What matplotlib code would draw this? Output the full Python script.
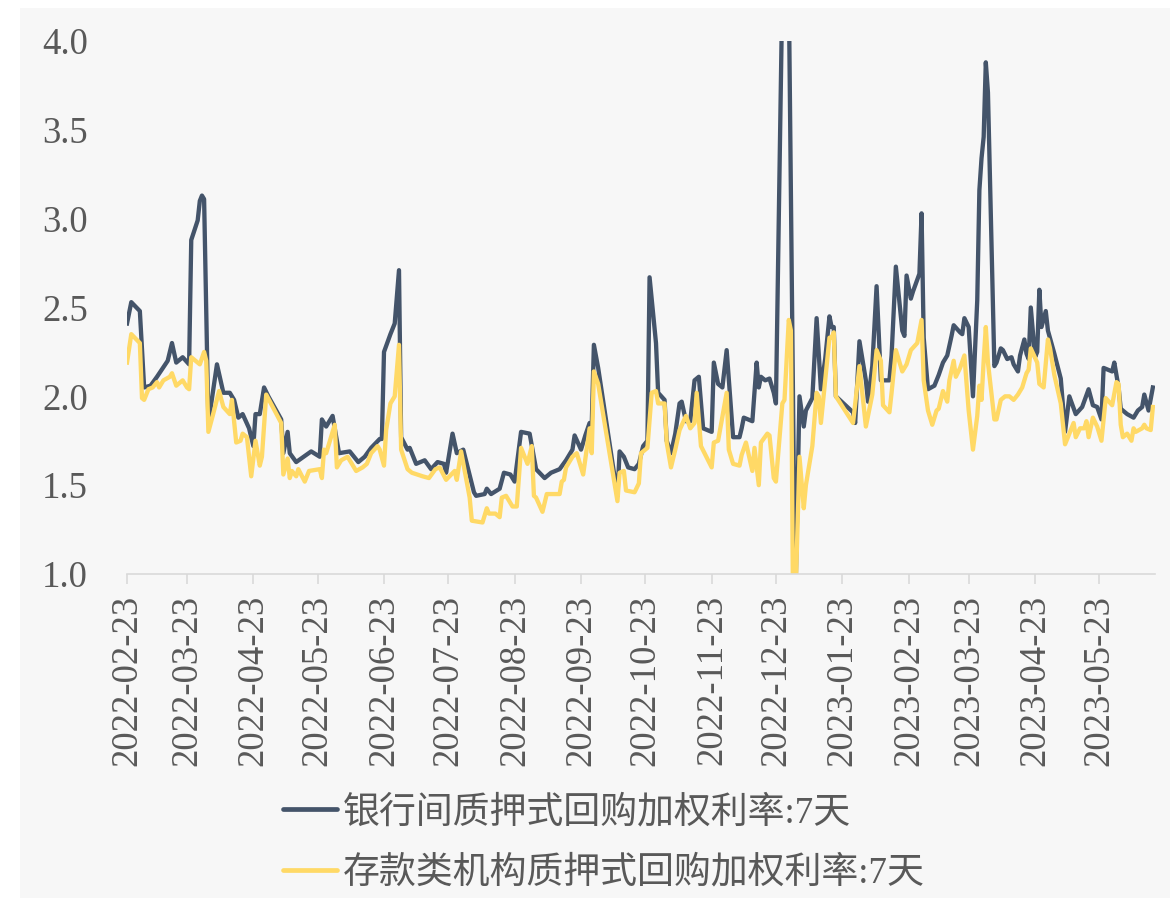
import matplotlib
matplotlib.use("Agg")
import matplotlib.pyplot as plt
import matplotlib.dates as mdates
import pandas as pd
from matplotlib.patches import Rectangle

# 银行间质押式回购加权利率:7天
bank_dates = [
    "2022-02-23", "2022-02-25", "2022-03-01", "2022-03-03", "2022-03-06", "2022-03-09", "2022-03-14",
    "2022-03-16", "2022-03-18", "2022-03-21", "2022-03-24", "2022-03-25", "2022-03-28", "2022-03-29",
    "2022-03-30", "2022-03-31", "2022-04-02", "2022-04-06", "2022-04-09", "2022-04-12", "2022-04-14",
    "2022-04-16", "2022-04-18", "2022-04-21", "2022-04-23", "2022-04-24", "2022-04-26", "2022-04-28",
    "2022-04-30", "2022-05-06", "2022-05-07", "2022-05-09", "2022-05-10", "2022-05-13", "2022-05-20",
    "2022-05-24", "2022-05-25", "2022-05-27", "2022-05-30", "2022-06-02", "2022-06-07", "2022-06-11",
    "2022-06-14", "2022-06-17", "2022-06-21", "2022-06-22", "2022-06-23", "2022-06-26", "2022-06-28",
    "2022-06-30", "2022-07-01", "2022-07-04", "2022-07-05", "2022-07-08", "2022-07-12", "2022-07-15",
    "2022-07-18", "2022-07-21", "2022-07-22", "2022-07-25", "2022-07-27", "2022-07-30", "2022-08-04",
    "2022-08-05", "2022-08-09", "2022-08-10", "2022-08-12", "2022-08-16", "2022-08-18", "2022-08-21",
    "2022-08-23", "2022-08-26", "2022-08-30", "2022-09-02", "2022-09-06", "2022-09-09", "2022-09-13",
    "2022-09-16", "2022-09-19", "2022-09-20", "2022-09-23", "2022-09-25", "2022-09-27", "2022-09-28",
    "2022-09-29", "2022-10-01", "2022-10-10", "2022-10-11", "2022-10-13", "2022-10-15", "2022-10-18",
    "2022-10-20", "2022-10-22", "2022-10-24", "2022-10-25", "2022-10-28", "2022-10-29", "2022-11-01",
    "2022-11-02", "2022-11-04", "2022-11-06", "2022-11-08", "2022-11-09", "2022-11-11", "2022-11-13",
    "2022-11-15", "2022-11-17", "2022-11-19", "2022-11-23", "2022-11-24", "2022-11-26", "2022-11-28",
    "2022-11-30", "2022-12-03", "2022-12-06", "2022-12-07", "2022-12-08", "2022-12-12", "2022-12-14",
    "2022-12-15", "2022-12-16", "2022-12-18", "2022-12-20", "2022-12-22", "2022-12-23", "2022-12-26",
    "2022-12-29", "2023-01-01", "2023-01-03", "2023-01-05", "2023-01-06", "2023-01-09", "2023-01-11",
    "2023-01-13", "2023-01-15", "2023-01-17", "2023-01-18", "2023-01-19", "2023-01-20", "2023-01-28",
    "2023-01-29", "2023-01-31", "2023-02-03", "2023-02-04", "2023-02-06", "2023-02-08", "2023-02-10",
    "2023-02-14", "2023-02-15", "2023-02-17", "2023-02-20", "2023-02-21", "2023-02-22", "2023-02-24",
    "2023-02-25", "2023-02-28", "2023-03-01", "2023-03-02", "2023-03-04", "2023-03-07", "2023-03-09",
    "2023-03-11", "2023-03-13", "2023-03-15", "2023-03-16", "2023-03-19", "2023-03-20", "2023-03-21",
    "2023-03-23", "2023-03-25", "2023-03-27", "2023-03-28", "2023-03-29", "2023-03-30", "2023-03-31",
    "2023-04-01", "2023-04-04", "2023-04-05", "2023-04-07", "2023-04-08", "2023-04-10", "2023-04-12",
    "2023-04-13", "2023-04-15", "2023-04-16", "2023-04-18", "2023-04-19", "2023-04-20", "2023-04-21",
    "2023-04-23", "2023-04-24", "2023-04-25", "2023-04-26", "2023-04-28", "2023-04-29", "2023-05-02",
    "2023-05-05", "2023-05-07", "2023-05-09", "2023-05-12", "2023-05-15", "2023-05-18", "2023-05-20",
    "2023-05-22", "2023-05-24", "2023-05-25", "2023-05-29", "2023-05-30", "2023-06-01", "2023-06-02",
    "2023-06-05", "2023-06-08", "2023-06-10", "2023-06-12", "2023-06-13", "2023-06-15", "2023-06-17",
]
bank_rate = [
    2.41, 2.53, 2.48, 2.05, 2.06, 2.11, 2.20,
    2.30, 2.19, 2.22, 2.18, 2.88, 2.99, 3.10,
    3.13, 3.11, 1.85, 2.18, 2.02, 2.02, 1.98,
    1.88, 1.90, 1.82, 1.72, 1.90, 1.90, 2.05,
    2.00, 1.87, 1.68, 1.80, 1.68, 1.63, 1.69,
    1.66, 1.87, 1.83, 1.89, 1.68, 1.69, 1.63,
    1.66, 1.71, 1.76, 1.76, 2.25, 2.35, 2.41,
    2.71, 1.77, 1.70, 1.71, 1.62, 1.64, 1.59,
    1.63, 1.62, 1.57, 1.79, 1.68, 1.70, 1.46,
    1.44, 1.45, 1.48, 1.45, 1.48, 1.57, 1.56,
    1.52, 1.80, 1.79, 1.59, 1.54, 1.57, 1.59,
    1.64, 1.70, 1.78, 1.70, 1.78, 1.85, 1.84,
    2.29, 2.16, 1.44, 1.69, 1.66, 1.60, 1.59,
    1.62, 1.72, 1.75, 2.67, 2.30, 2.02, 1.98,
    1.75, 1.68, 1.79, 1.96, 1.97, 1.86, 1.86,
    2.09, 2.11, 1.82, 1.80, 2.19, 2.07, 2.05,
    2.26, 1.77, 1.77, 1.82, 1.88, 1.86, 2.19,
    2.05, 2.11, 2.09, 2.10, 2.02, 1.96, 4.30,
    4.30, 0.80, 2.00, 1.83, 1.92, 1.99, 2.44,
    2.04, 2.21, 2.45, 2.39, 2.39, 2.00, 1.91,
    1.85, 2.31, 2.09, 1.97, 2.17, 2.62, 2.09,
    2.09, 2.23, 2.73, 2.37, 2.34, 2.68, 2.55,
    2.59, 2.69, 3.03, 2.33, 2.04, 2.06, 2.12,
    2.19, 2.23, 2.34, 2.40, 2.36, 2.35, 2.44,
    2.39, 2.00, 2.54, 3.16, 3.34, 3.46, 3.88,
    3.71, 2.17, 2.19, 2.27, 2.26, 2.21, 2.22,
    2.18, 2.14, 2.23, 2.32, 2.24, 2.21, 2.50,
    2.22, 2.25, 2.60, 2.39, 2.48, 2.37, 2.24,
    2.10, 1.80, 2.00, 1.90, 1.94, 2.04, 1.95,
    1.94, 1.87, 2.16, 2.14, 2.19, 2.05, 1.93,
    1.90, 1.88, 1.92, 1.94, 2.01, 1.92, 2.05,
]

# 存款类机构质押式回购加权利率:7天
dep_dates = [
    "2022-02-23", "2022-02-25", "2022-03-01", "2022-03-02", "2022-03-03", "2022-03-05", "2022-03-07",
    "2022-03-09", "2022-03-10", "2022-03-12", "2022-03-15", "2022-03-16", "2022-03-18", "2022-03-21",
    "2022-03-23", "2022-03-24", "2022-03-25", "2022-03-28", "2022-03-29", "2022-03-31", "2022-04-01",
    "2022-04-02", "2022-04-04", "2022-04-07", "2022-04-09", "2022-04-12", "2022-04-13", "2022-04-15",
    "2022-04-17", "2022-04-18", "2022-04-20", "2022-04-22", "2022-04-24", "2022-04-26", "2022-04-27",
    "2022-04-29", "2022-05-06", "2022-05-07", "2022-05-09", "2022-05-10", "2022-05-11", "2022-05-13",
    "2022-05-14", "2022-05-17", "2022-05-19", "2022-05-24", "2022-05-25", "2022-05-26", "2022-05-27",
    "2022-05-31", "2022-06-01", "2022-06-03", "2022-06-06", "2022-06-08", "2022-06-10", "2022-06-13",
    "2022-06-15", "2022-06-17", "2022-06-20", "2022-06-21", "2022-06-23", "2022-06-24", "2022-06-26",
    "2022-06-28", "2022-06-30", "2022-07-01", "2022-07-04", "2022-07-06", "2022-07-11", "2022-07-14",
    "2022-07-17", "2022-07-19", "2022-07-22", "2022-07-26", "2022-07-27", "2022-07-29", "2022-08-02",
    "2022-08-03", "2022-08-08", "2022-08-10", "2022-08-11", "2022-08-14", "2022-08-16", "2022-08-17",
    "2022-08-19", "2022-08-22", "2022-08-24", "2022-08-26", "2022-08-29", "2022-08-31", "2022-09-01",
    "2022-09-02", "2022-09-05", "2022-09-07", "2022-09-10", "2022-09-13", "2022-09-14", "2022-09-15",
    "2022-09-16", "2022-09-19", "2022-09-21", "2022-09-24", "2022-09-27", "2022-09-28", "2022-09-29",
    "2022-10-01", "2022-10-10", "2022-10-11", "2022-10-13", "2022-10-14", "2022-10-18", "2022-10-20",
    "2022-10-21", "2022-10-24", "2022-10-26", "2022-10-28", "2022-10-29", "2022-11-01", "2022-11-02",
    "2022-11-04", "2022-11-06", "2022-11-08", "2022-11-11", "2022-11-13", "2022-11-15", "2022-11-16",
    "2022-11-18", "2022-11-23", "2022-11-24", "2022-11-26", "2022-11-30", "2022-12-01", "2022-12-03",
    "2022-12-06", "2022-12-07", "2022-12-09", "2022-12-12", "2022-12-13", "2022-12-15", "2022-12-16",
    "2022-12-19", "2022-12-20", "2022-12-22", "2022-12-23", "2022-12-26", "2022-12-27", "2022-12-29",
    "2022-12-30", "2022-12-31", "2023-01-01", "2023-01-03", "2023-01-05", "2023-01-06", "2023-01-09",
    "2023-01-11", "2023-01-12", "2023-01-13", "2023-01-17", "2023-01-18", "2023-01-19", "2023-01-20",
    "2023-01-28", "2023-01-31", "2023-02-03", "2023-02-06", "2023-02-08", "2023-02-10", "2023-02-11",
    "2023-02-14", "2023-02-15", "2023-02-17", "2023-02-20", "2023-02-22", "2023-02-24", "2023-02-27",
    "2023-03-01", "2023-03-02", "2023-03-04", "2023-03-06", "2023-03-08", "2023-03-09", "2023-03-11",
    "2023-03-13", "2023-03-14", "2023-03-16", "2023-03-17", "2023-03-19", "2023-03-21", "2023-03-23",
    "2023-03-25", "2023-03-27", "2023-03-28", "2023-03-29", "2023-03-30", "2023-03-31", "2023-04-01",
    "2023-04-04", "2023-04-05", "2023-04-07", "2023-04-09", "2023-04-11", "2023-04-13", "2023-04-15",
    "2023-04-17", "2023-04-19", "2023-04-20", "2023-04-21", "2023-04-24", "2023-04-25", "2023-04-27",
    "2023-04-29", "2023-04-30", "2023-05-02", "2023-05-05", "2023-05-07", "2023-05-09", "2023-05-11",
    "2023-05-12", "2023-05-14", "2023-05-16", "2023-05-17", "2023-05-18", "2023-05-20", "2023-05-22",
    "2023-05-24", "2023-05-26", "2023-05-29", "2023-05-31", "2023-06-01", "2023-06-02", "2023-06-03",
    "2023-06-05", "2023-06-07", "2023-06-08", "2023-06-09", "2023-06-12", "2023-06-13", "2023-06-14",
    "2023-06-16", "2023-06-17",
]
dep_rate = [
    2.19, 2.35, 2.30, 1.99, 1.98, 2.04, 2.05,
    2.08, 2.05, 2.09, 2.11, 2.13, 2.06, 2.09,
    2.05, 2.04, 2.22, 2.19, 2.18, 2.25, 2.20,
    1.80, 1.89, 2.03, 1.94, 1.90, 1.98, 1.74,
    1.75, 1.79, 1.77, 1.55, 1.75, 1.61, 1.66,
    2.01, 1.85, 1.56, 1.65, 1.54, 1.58, 1.55,
    1.59, 1.52, 1.58, 1.59, 1.54, 1.70, 1.68,
    1.84, 1.60, 1.64, 1.66, 1.62, 1.58, 1.60,
    1.62, 1.68, 1.72, 1.70, 1.61, 1.81, 1.96,
    2.00, 2.29, 1.70, 1.59, 1.57, 1.55, 1.54,
    1.59, 1.60, 1.53, 1.58, 1.53, 1.69, 1.43,
    1.30, 1.29, 1.37, 1.34, 1.34, 1.32, 1.43,
    1.44, 1.38, 1.38, 1.71, 1.62, 1.72, 1.44,
    1.43, 1.35, 1.45, 1.45, 1.45, 1.52, 1.53,
    1.60, 1.66, 1.68, 1.56, 1.82, 1.68, 2.14,
    2.07, 1.41, 1.57, 1.58, 1.47, 1.46, 1.51,
    1.68, 1.71, 2.02, 2.03, 1.96, 1.96, 1.74,
    1.60, 1.70, 1.81, 1.89, 1.82, 1.85, 2.02,
    1.72, 1.60, 1.74, 1.75, 2.02, 1.70, 1.62,
    1.61, 1.67, 1.74, 1.58, 1.71, 1.50, 1.74,
    1.79, 1.78, 1.54, 1.52, 1.96, 1.98, 2.43,
    2.37, 0.80, 0.80, 1.66, 1.37, 1.50, 1.72,
    2.02, 2.00, 1.85, 2.33, 2.33, 2.36, 2.00,
    1.85, 2.17, 1.83, 2.01, 2.26, 2.20, 1.95,
    1.91, 2.02, 2.26, 2.14, 2.18, 2.26, 2.30,
    2.43, 2.09, 1.92, 1.84, 1.92, 1.93, 2.03,
    1.97, 2.09, 2.20, 2.11, 2.16, 2.23, 1.92,
    1.70, 1.89, 2.06, 1.98, 2.20, 2.39, 2.19,
    1.87, 1.87, 1.98, 2.00, 2.00, 1.98, 2.01,
    2.05, 2.13, 2.15, 2.27, 2.19, 2.07, 2.05,
    2.32, 2.27, 2.12, 1.96, 1.73, 1.79, 1.85,
    1.77, 1.82, 1.82, 1.86, 1.77, 1.88, 1.83,
    1.75, 1.99, 1.95, 2.08, 2.07, 1.84, 1.77,
    1.79, 1.75, 1.82, 1.80, 1.82, 1.84, 1.82,
    1.81, 1.94,
]

series_names = ["银行间质押式回购加权利率:7天", "存款类机构质押式回购加权利率:7天"]
y_ticks = [1.0, 1.5, 2.0, 2.5, 3.0, 3.5, 4.0]
tick_dates = pd.date_range("2022-02-23", periods=16, freq=pd.DateOffset(months=1))

dark = "#44546a"
yellow = "#ffd966"
grey_text = "#595959"
bg = "#f7f7f7"

fig = plt.figure(figsize=(11.7, 9.01), dpi=100, facecolor="white")
# grey panel behind everything
fig.patches.append(Rectangle((20 / 1170, 3 / 901), 1 - 20 / 1170, 890 / 901,
                             transform=fig.transFigure, facecolor=bg,
                             edgecolor="none", zorder=-10))

ax = fig.add_axes([127 / 1170, 327 / 901, 1028 / 1170, 533 / 901])
ax.set_facecolor(bg)

ax.plot(pd.to_datetime(bank_dates), bank_rate, color=dark, lw=3.1,
        solid_joinstyle="round", label=series_names[0])
ax.plot(pd.to_datetime(dep_dates), dep_rate, color=yellow, lw=3.1,
        solid_joinstyle="round", label=series_names[1])

ax.set_ylim(1.0, 4.0)
ax.set_yticks(y_ticks)
ax.set_yticklabels([f"{v:.1f}" for v in y_ticks])
ax.set_xlim(pd.Timestamp("2022-02-23"), pd.Timestamp("2023-06-18"))
ax.set_xticks(tick_dates)
ax.xaxis.set_major_formatter(mdates.DateFormatter("%Y-%m-%d"))

for s in ["top", "right", "left"]:
    ax.spines[s].set_visible(False)
ax.spines["bottom"].set_color("#d9d9d9")
ax.spines["bottom"].set_linewidth(1.2)

ax.tick_params(axis="y", length=0, pad=28, labelsize=26.5, labelcolor=grey_text)
ax.tick_params(axis="x", length=7, width=1.2, color="#d9d9d9", pad=8,
               labelsize=26.5, labelcolor=grey_text, labelrotation=90)
for lab in ax.get_xticklabels() + ax.get_yticklabels():
    lab.set_fontfamily("Liberation Serif")

leg = fig.legend(loc="center left", bbox_to_anchor=(250 / 1170, 1 - 843 / 901),
                 frameon=False, handlelength=1.46, handletextpad=0.14,
                 labelspacing=0.69,
                 prop={"family": ["Liberation Serif", "Noto Sans CJK SC"], "size": 26.6})
for t in leg.get_texts():
    t.set_color(grey_text)
for h in leg.get_lines():
    h.set_linewidth(3.4)
    h.set_solid_capstyle("round")

fig.savefig("out.png", dpi=100, facecolor="white")
